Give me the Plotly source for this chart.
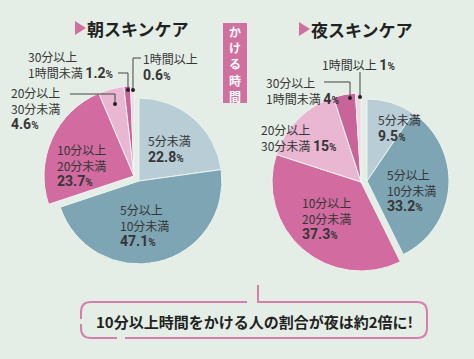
import plotly.graph_objects as go

# ---------------- data ----------------
categories = ["5分未満", "5分以上10分未満", "10分以上20分未満",
              "20分以上30分未満", "30分以上1時間未満", "1時間以上"]
morning_values = [22.8, 47.1, 23.7, 4.6, 1.2, 0.6]
night_values = [9.5, 33.2, 37.3, 15, 4, 1]
morning_title = "朝スキンケア"
night_title = "夜スキンケア"
side_label = "かける時間"
summary_text = "10分以上時間をかける人の割合が夜は約2倍に!"

# ---------------- style ----------------
W, H = 474, 359
BG = "#e4eee6"
slice_colors = ["#b8cdd6", "#7ea5b3", "#d16ba0", "#e9b7d1", "#c8649a", "#f1d4e2"]
group = ["blue", "blue", "pink", "pink", "pink", "pink"]
PINK = "#d0709f"
JP = "Noto Sans CJK JP"
NUM = "Roboto"


def X(px):
    return px / W


def Y(py):
    return 1 - py / H


def dom(cx, cy, r):
    return dict(x=[X(cx - r), X(cx + r)], y=[Y(cy + r), Y(cy - r)])


def pie(values, show, domain):
    cols = [c if g == show else "rgba(0,0,0,0)" for c, g in zip(slice_colors, group)]
    lcols = ["#eef4f0" if g == show else "rgba(0,0,0,0)" for g in group]
    return go.Pie(values=values, labels=categories, sort=False, direction="clockwise",
                  rotation=0, textinfo="none", showlegend=False, domain=domain,
                  marker=dict(colors=cols, line=dict(color=lcols, width=1)),
                  hovertemplate="%{label}: %{value}%<extra></extra>")


fig = go.Figure()
# morning pie: blue group + enlarged/offset pink group
fig.add_trace(pie(morning_values, "blue", dom(139, 181, 83)))
fig.add_trace(pie(morning_values, "pink", dom(134, 176, 90)))
# night pie
fig.add_trace(pie(night_values, "blue", dom(367, 181, 82)))
fig.add_trace(pie(night_values, "pink", dom(361, 182, 89)))


def split(cat):
    if "以上" in cat and not cat.endswith("以上"):
        a, b = cat.split("以上")
        return [a + "以上", b]
    return [cat]


def pct(v):
    return (f"<b><span style='font-family:{NUM};font-size:14px'>{v:g}</span>"
            f"<span style='font-family:{NUM};font-size:10px'>%</span></b>")


def label_text(i, values, inline):
    lines = split(categories[i])
    if inline:
        lines[-1] = lines[-1] + " " + pct(values[i])
    else:
        lines.append(pct(values[i]))
    return "<br>".join(lines)


annotations = []
shapes = []

# (index, x_left, y_center, inline_pct)
morning_label_pos = [(0, 146, 148, False), (1, 118, 225, False), (2, 55, 165, False),
                     (3, 9, 108, False), (4, 26, 65, True), (5, 141, 66, False)]
night_label_pos = [(0, 376, 127, False), (1, 385, 190, False), (2, 300, 218, False),
                   (3, 259, 137, True), (4, 264, 91, True), (5, 320, 65, True)]

for values, plist in ((morning_values, morning_label_pos), (night_values, night_label_pos)):
    for i, xl, yc, inline in plist:
        annotations.append(dict(x=X(xl), y=Y(yc), xref="paper", yref="paper",
                                xanchor="left", yanchor="middle", align="left",
                                showarrow=False, text=label_text(i, values, inline),
                                font=dict(family=JP, size=12, color="#363636")))

# leader lines (pixel polylines) and dots
leaders = [
    [(70, 94), (115, 94), (115, 104)],
    [(118, 73), (128, 73), (128, 90)],
    [(141, 58), (133, 58), (133, 90)],
    [(324, 82), (350, 82), (350, 98)],
    [(360, 72), (360, 97)],
]
for pts in leaders:
    path = "M " + " L ".join(f"{X(a):.5f},{Y(b):.5f}" for a, b in pts)
    shapes.append(dict(type="path", xref="paper", yref="paper", path=path,
                       line=dict(color="#444444", width=1)))
    ex, ey = pts[-1]
    shapes.append(dict(type="circle", xref="paper", yref="paper",
                       x0=X(ex - 2), x1=X(ex + 2), y0=Y(ey + 2), y1=Y(ey - 2),
                       fillcolor="#222222", line=dict(width=0)))

# titles with triangle markers
for tx, ty, title in ((87, 28, morning_title), (311, 29, night_title)):
    annotations.append(dict(x=X(tx - 2), y=Y(ty), xref="paper", yref="paper",
                            xanchor="left", yanchor="middle", showarrow=False,
                            text=f"<b>{title}</b>",
                            font=dict(family=JP, size=17, color="#222222")))
    tri = (f"M {X(tx-12):.5f},{Y(ty-7):.5f} L {X(tx-12):.5f},{Y(ty+7):.5f} "
           f"L {X(tx-1):.5f},{Y(ty):.5f} Z")
    shapes.append(dict(type="path", xref="paper", yref="paper", path=tri,
                       fillcolor=PINK, line=dict(width=0)))

# vertical side label (one character per line)
shapes.append(dict(type="rect", xref="paper", yref="paper",
                   x0=X(223), x1=X(247), y0=Y(103), y1=Y(23),
                   fillcolor=PINK, line=dict(width=0)))
for k, ch in enumerate(side_label):
    annotations.append(dict(x=X(235), y=Y(31 + 16.5 * k), xref="paper", yref="paper",
                            xanchor="center", yanchor="middle", showarrow=False,
                            borderpad=0, text=f"<b>{ch}</b>",
                            font=dict(family=JP, size=12, color="white")))

# summary bubble outline
LINE = "#d57fa9"


def qpath(points):
    s = ""
    for k, p in enumerate(points):
        if p[0] == "Q":
            c, e = p[1], p[2]
            s += f" Q {X(c[0]):.5f},{Y(c[1]):.5f} {X(e[0]):.5f},{Y(e[1]):.5f}"
        else:
            s += (" M " if k == 0 else " L ") + f"{X(p[0]):.5f},{Y(p[1]):.5f}"
    return s.strip()


bubble = [
    [(247, 302), (91, 302), ("Q", (81, 302), (81, 312)), (81, 319)],
    [(81, 324), (81, 328), ("Q", (81, 338), (91, 338)), (117, 338)],
    [(125, 338), (417, 338), ("Q", (427, 338), (427, 328)), (427, 312),
     ("Q", (427, 302), (417, 302)), (258, 302), (258, 285)],
]
for seg in bubble:
    shapes.append(dict(type="path", xref="paper", yref="paper", path=qpath(seg),
                       line=dict(color=LINE, width=2)))

annotations.append(dict(x=X(254), y=Y(321), xref="paper", yref="paper",
                        xanchor="center", yanchor="middle", showarrow=False,
                        text=f"<b>{summary_text}</b>",
                        font=dict(family=JP, size=15, color="#222222")))

fig.update_layout(width=W, height=H, margin=dict(l=0, r=0, t=0, b=0),
                  paper_bgcolor=BG, plot_bgcolor=BG,
                  annotations=annotations, shapes=shapes)

fig.write_html("out.html", config={"displayModeBar": False, "responsive": False},
               post_script="document.body.style.margin='0';document.body.style.background='%s';" % BG)
